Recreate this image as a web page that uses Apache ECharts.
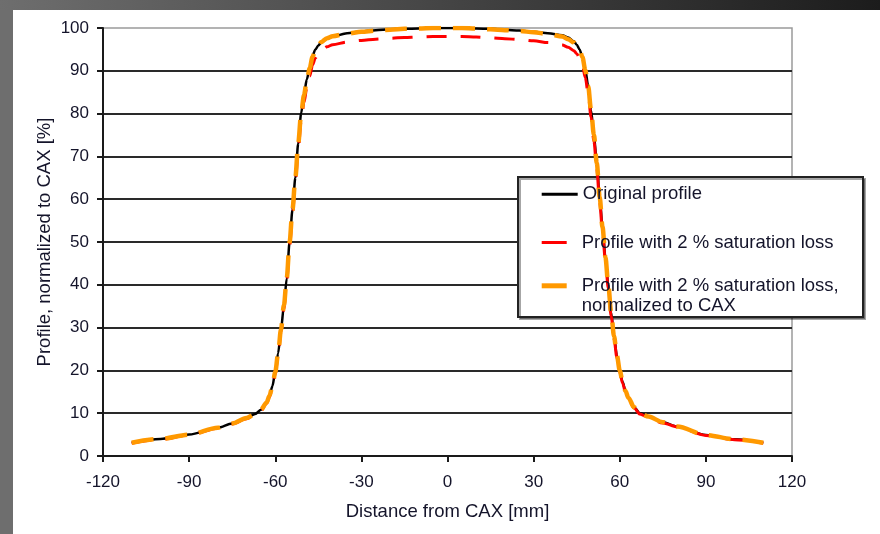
<!DOCTYPE html>
<html>
<head>
<meta charset="utf-8">
<script src="https://cdn.jsdelivr.net/npm/echarts@6/dist/echarts.min.js"></script>
<style>
    html, body {margin: 0; padding: 0;}
    body {
        width: 880px; height: 534px; overflow: hidden; position: relative;
        background: linear-gradient(to right, #6e6e6e, #1c1c1c) top / 100% 10px no-repeat, #6e6e6e;
    }
    #chart {position: absolute; left: 13px; top: 10px; width: 867px; height: 524px; background: #fff;}
</style>
</head>
<body>
<div id="chart"></div>
<script>
    // distance from CAX [mm]
    const distance = [-110, -100, -90, -80, -75, -70, -67, -65, -63, -62, -61, -60, -59, -58, -57, -56, -55, -54, -53, -52,
        -51, -50, -49, -48, -47, -46, -45, -44, -42, -40, -35, -30, -25, -20, -15, -10, -5, 0, 5, 10,
        15, 20, 25, 30, 35, 40, 42, 44, 45, 46, 47, 48, 49, 50, 51, 52, 53, 54, 55, 56,
        57, 58, 59, 60, 61, 62, 63, 65, 67, 70, 75, 80, 90, 100, 110];

    const originalProfile = [3.1, 4.0, 5.0, 6.6, 7.6, 8.9, 9.8, 10.8, 12.5, 14.0, 16.3, 19.6, 24.0, 29.5, 35.0, 41.5, 50.0, 57.5, 65.0, 73.0,
        80.0, 84.5, 88.0, 90.8, 93.6, 95.0, 95.9, 96.6, 97.5, 98.0, 98.8, 99.2, 99.5, 99.7, 99.8, 99.9, 100, 100, 100, 99.9,
        99.8, 99.6, 99.4, 99.1, 98.8, 98.3, 97.8, 96.9, 96.1, 95.0, 93.2, 90.3, 86.5, 80.8, 75.0, 68.5, 60.5, 53.5, 46.5, 40.0,
        33.5, 28.0, 23.5, 20.0, 17.3, 15.2, 13.6, 11.4, 10.0, 9.2, 7.9, 6.9, 4.9, 3.9, 3.1];

    const satLossProfile = [3.0, 3.9, 4.9, 6.5, 7.5, 8.7, 9.6, 10.6, 12.3, 13.8, 16.0, 19.2, 23.5, 29.0, 34.4, 40.7, 49.0, 56.4, 63.7, 71.5,
        78.2, 82.6, 86.0, 88.8, 91.4, 93.0, 94.0, 94.8, 95.6, 96.1, 96.7, 97.1, 97.4, 97.6, 97.8, 97.9, 98.0, 98.0, 98.0, 97.9,
        97.7, 97.5, 97.3, 97.0, 96.6, 96.0, 95.5, 94.7, 94.0, 93.0, 91.3, 88.4, 84.7, 79.2, 73.5, 67.1, 59.3, 52.4, 45.6, 39.2,
        32.8, 27.4, 23.0, 19.6, 17.0, 14.9, 13.3, 11.2, 9.8, 9.0, 7.7, 6.8, 4.8, 3.8, 3.0];

    const normalizedProfile = [3.1, 4.0, 5.0, 6.6, 7.6, 8.9, 9.8, 10.8, 12.5, 14.1, 16.3, 19.6, 24.0, 29.6, 35.1, 41.5, 50.0, 57.6, 65.0, 73.0,
        79.8, 84.3, 87.8, 90.6, 93.3, 94.9, 95.9, 96.7, 97.6, 98.1, 98.7, 99.1, 99.4, 99.6, 99.8, 99.9, 100, 100, 100, 99.9,
        99.7, 99.5, 99.3, 99.0, 98.6, 98.0, 97.4, 96.6, 95.9, 94.9, 93.2, 90.2, 86.4, 80.8, 75.0, 68.5, 60.5, 53.5, 46.5, 40.0,
        33.5, 28.0, 23.5, 20.0, 17.3, 15.2, 13.6, 11.4, 10.0, 9.2, 7.9, 6.9, 4.9, 3.9, 3.1];

    const seriesNames = ['Original profile', 'Profile with 2 % saturation loss', 'Profile with 2 % saturation loss,'];
    const xTicks = {min: -120, max: 120, step: 30};
    const yTicks = {min: 0, max: 100, step: 10};

    const font = '"Liberation Sans", Arial, sans-serif';
    const textColor = '#14142a';

    const pairs = (values) => distance.map((d, i) => [d, values[i]]);

    const legendItem = (top, name, color, icon, width, padLeft) => ({
        left: 528.7,
        top: top,
        padding: 0,
        itemWidth: width,
        itemHeight: 14,
        data: [{name: name, icon: icon, itemStyle: {color: color, borderWidth: 0}}],
        textStyle: {fontFamily: font, fontSize: 18.5, color: textColor, padding: [0, 0, 0, padLeft]}
    });

    const myChart = echarts.init(document.getElementById('chart'));
    myChart.setOption({
        animation: false,
        grid: {
            left: 90,
            top: 18,
            width: 689,
            height: 428,
            show: true,
            borderColor: '#9a9a9a',
            borderWidth: 1.5
        },
        xAxis: {
            type: 'value',
            min: xTicks.min,
            max: xTicks.max,
            interval: xTicks.step,
            name: 'Distance from CAX [mm]',
            nameLocation: 'middle',
            nameGap: 46,
            nameTextStyle: {fontFamily: font, fontSize: 18.5, color: textColor},
            axisLine: {onZero: false, lineStyle: {color: '#1a1a1a', width: 2}},
            axisTick: {show: true, length: 6, lineStyle: {color: '#1a1a1a', width: 2}},
            axisLabel: {fontFamily: font, fontSize: 17, color: textColor, margin: 18},
            splitLine: {show: false}
        },
        yAxis: {
            type: 'value',
            min: yTicks.min,
            max: yTicks.max,
            interval: yTicks.step,
            name: 'Profile, normalized to CAX [%]',
            nameLocation: 'middle',
            nameGap: 49,
            nameMoveOverlap: false,
            nameTextStyle: {fontFamily: font, fontSize: 18.5, color: textColor},
            axisLine: {show: true, onZero: false, lineStyle: {color: '#1a1a1a', width: 2}},
            axisTick: {show: true, length: 6, lineStyle: {color: '#1a1a1a', width: 2}},
            axisLabel: {fontFamily: font, fontSize: 17, color: textColor, margin: 14},
            splitLine: {show: true, showMaxLine: false, lineStyle: {color: '#2a2a2a', width: 2}}
        },
        legend: [
            legendItem(174.7, seriesNames[0], '#000', 'path://M0 0H36V3H0Z', 36, 0),
            legendItem(223, seriesNames[1], '#ff0000', 'path://M0 0H25V3H0Z', 25, 10),
            legendItem(266.3, seriesNames[2], '#ff9900', 'path://M0 0H25V5H0Z', 25, 10)
        ],
        graphic: [
            {
                type: 'rect',
                z: 3,
                shape: {x: 505, y: 167, width: 345, height: 140},
                style: {fill: '#fff', stroke: '#222', lineWidth: 2, shadowColor: 'rgba(0,0,0,0.35)', shadowOffsetX: 2, shadowOffsetY: 2}
            },
            {
                type: 'text',
                z: 5,
                x: 568.7,
                y: 296,
                style: {text: 'normalized to CAX', fontFamily: font, fontSize: 18.5, fill: textColor, verticalAlign: 'middle'}
            }
        ],
        series: [
            {
                name: seriesNames[0],
                type: 'line',
                symbol: 'none',
                smooth: 0.3,
                smoothMonotone: 'x',
                color: '#000',
                lineStyle: {color: '#000', width: 2.5},
                data: pairs(originalProfile)
            },
            {
                name: seriesNames[1],
                type: 'line',
                symbol: 'none',
                smooth: 0.3,
                smoothMonotone: 'x',
                color: '#ff0000',
                lineStyle: {color: '#ff0000', width: 3, type: [20, 14], cap: 'butt'},
                data: pairs(satLossProfile)
            },
            {
                name: seriesNames[2],
                type: 'line',
                symbol: 'none',
                smooth: 0.3,
                smoothMonotone: 'x',
                color: '#ff9900',
                lineStyle: {color: '#ff9900', width: 4.5, type: [22, 12], cap: 'butt'},
                data: pairs(normalizedProfile)
            }
        ]
    });
</script>
</body>
</html>
